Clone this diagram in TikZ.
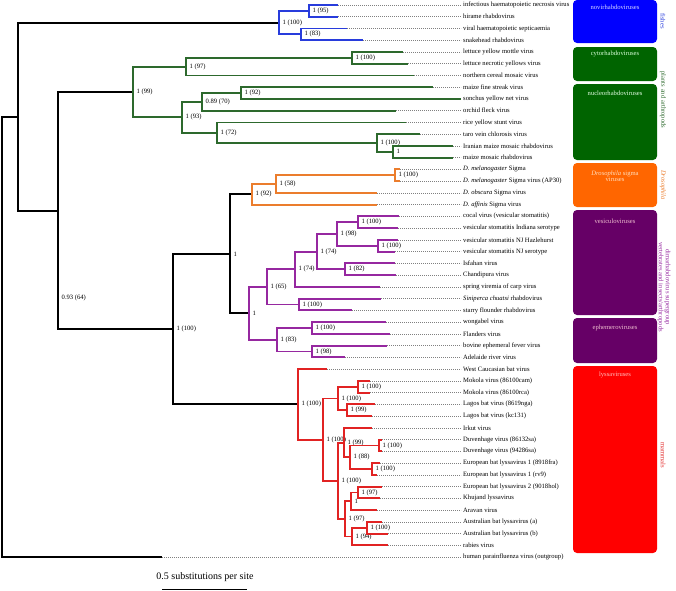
\documentclass[tikz,border=0pt]{standalone}
\usepackage{fontspec}
\setmainfont{Liberation Serif}
\definecolor{fishc}{RGB}{40,60,220}
\definecolor{plantc}{RGB}{45,105,45}
\definecolor{drosc}{RGB}{235,125,45}
\definecolor{purc}{RGB}{150,40,160}
\definecolor{lysc}{RGB}{225,35,35}
\definecolor{boxblue}{RGB}{0,0,255}
\definecolor{boxgreen}{RGB}{0,100,0}
\definecolor{boxorange}{RGB}{255,102,0}
\definecolor{boxpurple}{RGB}{102,0,102}
\definecolor{boxred}{RGB}{255,0,0}
\newcommand\smallf{\fontsize{6.6}{7.6}\selectfont}
\newcommand\lf[4]{%
  \coordinate (#1e) at (#3,#2);
  \node[leaflbl] (#1) at (461,#2) {#4};
  \draw[dotl] (#1e) -- (#1.west);}
\newcommand\inode[4]{%
  \coordinate (#1) at (#2,#3);
  \node[sup] (#1t) at (#1) {#4};}
\begin{document}
\begin{tikzpicture}[x=1pt,y=-1pt,
  br/.style={line width=1.9pt, line join=miter},
  blk/.style={br, black},
  fishb/.style={br, fishc},
  plantb/.style={br, plantc},
  drosb/.style={br, drosc},
  purb/.style={br, purc},
  lysb/.style={br, lysc},
  dotl/.style={gray, line width=0.5pt, dash pattern=on 0.7pt off 1.3pt},
  sup/.style={font=\smallf, anchor=west, inner sep=0pt, xshift=3.5pt},
  leaflbl/.style={font=\smallf, anchor=west, inner xsep=2pt, inner ysep=0pt},
  boxst/.style={rounded corners=4pt, minimum width=84pt, inner sep=0pt},
  boxtxt/.style={font=\smallf, inner sep=0pt},
  sidetxt/.style={font=\smallf, rotate=-90, inner sep=0pt, align=center}]
\useasboundingbox (0,0) rectangle (676,590);

% ---------- boxes ----------
\node[boxst, fill=boxblue, minimum height=43pt] (bx1) at (615,21.5) {};
\node[boxst, fill=boxgreen, minimum height=34pt] (bx2) at (615,64) {};
\node[boxst, fill=boxgreen, minimum height=76pt] (bx3) at (615,122) {};
\node[boxst, fill=boxorange, minimum height=44pt] (bx4) at (615,185) {};
\node[boxst, fill=boxpurple, minimum height=105pt] (bx5) at (615,262.5) {};
\node[boxst, fill=boxpurple, minimum height=45pt] (bx6) at (615,340.5) {};
\node[boxst, fill=boxred, minimum height=187pt] (bx7) at (615,459.5) {};
\node[boxtxt, text=white!85!blue] (bt1) at (615,7.5) {novirhabdoviruses};
\node[boxtxt, text=white!85!green] (bt2) at (615,54) {cytorhabdoviruses};
\node[boxtxt, text=white!90!green] (bt3) at (615,93) {nucleorhabdoviruses};
\node[boxtxt, text=white!75!orange, align=center] (bt4) at (615,176.5) {\textit{Drosophila} sigma\\[-1.5pt]viruses};
\node[boxtxt, text=white!75!purple] (bt5) at (615,221) {vesiculoviruses};
\node[boxtxt, text=white!75!purple] (bt6) at (615,328) {ephemeroviruses};
\node[boxtxt, text=white!75!red] (bt7) at (615,375) {lyssaviruses};
\node[sidetxt, text=fishc] (s1) at (663,21) {fishes};
\node[sidetxt, text=plantc] (s2) at (663,100) {plants and arthropods};
\node[sidetxt, text=drosc] (s3) at (663,185) {\textit{Drosophila}};
\node[sidetxt, text=purc, font=\fontsize{6.6}{7}\selectfont] (s4) at (664,287) {dimarhabdovirus supergroup\\vertebrates and insects/arthropods};
\node[sidetxt, text=lysc] (s5) at (663,455) {mammals};

% ---------- leaves ----------
\lf{L1}{5.0}{338}{infectious haematopoietic necrosis virus}
\lf{L2}{16.7}{338}{hirame rhabdovirus}
\lf{L3}{28.5}{347}{viral haematopoietic septicaemia}
\lf{L4}{40.2}{363}{snakehead rhabdovirus}
\lf{L5}{52.0}{403}{lettuce yellow mottle virus}
\lf{L6}{63.7}{408}{lettuce necrotic yellows virus}
\lf{L7}{75.5}{414}{northern cereal mosaic virus}
\lf{L8}{87.2}{433}{maize fine streak virus}
\lf{L9}{99.0}{461}{sonchus yellow net virus}
\lf{L10}{110.7}{396}{orchid fleck virus}
\lf{L11}{122.5}{406}{rice yellow stunt virus}
\lf{L12}{134.2}{420}{taro vein chlorosis virus}
\lf{L13}{145.9}{453}{Iranian maize mosaic rhabdovirus}
\lf{L14}{157.7}{453}{maize mosaic rhabdovirus}
\lf{L15}{169.4}{400}{\textit{D. melanogaster} Sigma}
\lf{L16}{181.2}{400}{\textit{D. melanogaster} Sigma virus (AP30)}
\lf{L17}{192.9}{377}{\textit{D. obscura} Sigma virus}
\lf{L18}{204.7}{377}{\textit{D. affinis} Sigma virus}
\lf{L19}{216.4}{399}{cocal virus (vesicular stomatitis)}
\lf{L20}{228.2}{398}{vesicular stomatitis Indiana serotype}
\lf{L21}{239.9}{398}{vesicular stomatitis NJ Hazlehurst}
\lf{L22}{251.7}{395}{vesicular stomatitis NJ serotype}
\lf{L23}{263.4}{395}{Isfahan virus}
\lf{L24}{275.2}{396}{Chandipura virus}
\lf{L25}{286.9}{380}{spring viremia of carp virus}
\lf{L26}{298.6}{381}{\textit{Siniperca chuatsi} rhabdovirus}
\lf{L27}{310.4}{352}{starry flounder rhabdovirus}
\lf{L28}{322.1}{386}{wongabel virus}
\lf{L29}{333.9}{390}{Flanders virus}
\lf{L30}{345.6}{387}{bovine ephemeral fever virus}
\lf{L31}{357.4}{345}{Adelaide river virus}
\lf{L32}{369.1}{327}{West Caucasian bat virus}
\lf{L33}{380.9}{370}{Mokola virus (86100cam)}
\lf{L34}{392.6}{370}{Mokola virus (86100rca)}
\lf{L35}{404.4}{375}{Lagos bat virus (8619nga)}
\lf{L36}{416.1}{372}{Lagos bat virus (kc131)}
\lf{L37}{427.9}{372}{Irkut virus}
\lf{L38}{439.6}{382}{Duvenhage virus (86132sa)}
\lf{L39}{451.3}{382}{Duvenhage virus (94286sa)}
\lf{L40}{463.1}{380}{European bat lyssavirus 1 (8918fra)}
\lf{L41}{474.8}{377}{European bat lyssavirus 1 (rv9)}
\lf{L42}{486.6}{382}{European bat lyssavirus 2 (9018hol)}
\lf{L43}{498.3}{380}{Khujand lyssavirus}
\lf{L44}{510.1}{377}{Aravan virus}
\lf{L45}{521.8}{382}{Australian bat lyssavirus (a)}
\lf{L46}{533.6}{388}{Australian bat lyssavirus (b)}
\lf{L47}{545.3}{388}{rabies virus}
\lf{L48}{557.1}{162}{human parainfluenza virus (outgroup)}

% ---------- internal nodes ----------
\inode{f12}{309}{10.9}{1 (95)}
\inode{f34}{301}{34.35}{1 (83)}
\inode{fish}{279}{22.6}{1 (100)}
\inode{c56}{352}{57.85}{1 (100)}
\inode{cyto}{186}{66.7}{1 (97)}
\inode{n89}{241}{93.1}{1 (92)}
\inode{n810}{202}{101.9}{0.89 (70)}
\inode{n1314}{393}{151.8}{1}
\inode{n12}{377}{143.0}{1 (100)}
\inode{n11}{217}{132.7}{1 (72)}
\inode{nucleo}{182}{117.3}{1 (93)}
\inode{plants}{133}{92.0}{1 (99)}
\inode{d1516}{395}{175.3}{1 (100)}
\inode{d17}{276}{184.1}{1 (58)}
\inode{dros}{252}{194.4}{1 (92)}
\inode{v1920}{358}{222.3}{1 (100)}
\inode{v2122}{378}{245.8}{1 (100)}
\inode{v98}{337}{234.05}{1 (98)}
\inode{v2324}{345}{269.3}{1 (82)}
\inode{v74u}{317}{251.7}{1 (74)}
\inode{v74l}{295}{269.3}{1 (74)}
\inode{v2627}{299}{304.5}{1 (100)}
\inode{vesic}{267}{286.9}{1 (65)}
\inode{e2829}{312}{328.0}{1 (100)}
\inode{e3031}{312}{351.5}{1 (98)}
\inode{ephem}{277}{339.75}{1 (83)}
\inode{purple}{249}{313.3}{1}
\inode{dimar}{230}{253.9}{1}
\inode{l3334}{358}{386.75}{1 (100)}
\inode{l3536}{347}{410.25}{1 (99)}
\inode{lB}{338}{398.5}{1 (100)}
\inode{l3839}{379}{445.45}{1 (100)}
\inode{l4041}{372}{468.95}{1 (100)}
\inode{lF}{350}{457.2}{1 (88)}
\inode{lD}{344}{442.55}{1 (99)}
\inode{l4243}{358}{492.45}{1 (97)}
\inode{l44}{351}{501.3}{1}
\inode{l4546}{367}{527.7}{1 (100)}
\inode{l47}{352}{536.5}{1 (94)}
\inode{lE}{345}{518.9}{1 (97)}
\inode{lC}{338}{480.7}{1 (100)}
\inode{lA}{323}{439.6}{1 (100)}
\inode{lyssa}{298}{404.35}{1 (100)}
\inode{ingr}{173}{329.1}{1 (100)}
\coordinate (g1) at (58,210.6);
\node[sup] (g1t) at (58,298) {0.93 (64)};
\coordinate (g0) at (18,116.6);
\coordinate (root) at (2,336.8);

% ---------- branches ----------
\draw[blk] (root) |- (g0) (root) |- (L48e)
  (g0) |- (fish) (g0) |- (g1)
  (g1) |- (plants) (g1) |- (ingr)
  (ingr) |- (dimar) (ingr) |- (lyssa)
  (dimar) |- (dros) (dimar) |- (purple);
\draw[fishb] (fish) |- (f12) (fish) |- (f34)
  (f12) |- (L1e) (f12) |- (L2e) (f34) |- (L3e) (f34) |- (L4e);
\draw[plantb] (plants) |- (cyto) (plants) |- (nucleo)
  (cyto) |- (c56) (cyto) |- (L7e) (c56) |- (L5e) (c56) |- (L6e)
  (nucleo) |- (n810) (nucleo) |- (n11)
  (n810) |- (n89) (n810) |- (L10e) (n89) |- (L8e) (n89) |- (L9e)
  (n11) |- (L11e) (n11) |- (n12) (n12) |- (L12e) (n12) |- (n1314)
  (n1314) |- (L13e) (n1314) |- (L14e);
\draw[drosb] (dros) |- (d17) (dros) |- (L18e) (d17) |- (d1516) (d17) |- (L17e)
  (d1516) |- (L15e) (d1516) |- (L16e);
\draw[purb] (purple) |- (vesic) (purple) |- (ephem)
  (vesic) |- (v74l) (vesic) |- (v2627)
  (v74l) |- (v74u) (v74l) |- (L25e)
  (v74u) |- (v98) (v74u) |- (v2324)
  (v98) |- (v1920) (v98) |- (v2122)
  (v1920) |- (L19e) (v1920) |- (L20e) (v2122) |- (L21e) (v2122) |- (L22e)
  (v2324) |- (L23e) (v2324) |- (L24e)
  (v2627) |- (L26e) (v2627) |- (L27e)
  (ephem) |- (e2829) (ephem) |- (e3031)
  (e2829) |- (L28e) (e2829) |- (L29e) (e3031) |- (L30e) (e3031) |- (L31e);
\draw[lysb] (lyssa) |- (L32e) (lyssa) |- (lA)
  (lA) |- (lB) (lA) |- (lC)
  (lB) |- (l3334) (lB) |- (l3536)
  (l3334) |- (L33e) (l3334) |- (L34e) (l3536) |- (L35e) (l3536) |- (L36e)
  (lC) |- (lD) (lC) |- (lE)
  (lD) |- (L37e) (lD) |- (lF)
  (lF) |- (l3839) (lF) |- (l4041)
  (l3839) |- (L38e) (l3839) |- (L39e) (l4041) |- (L40e) (l4041) |- (L41e)
  (lE) |- (l44) (lE) |- (l47)
  (l44) |- (l4243) (l44) |- (L44e) (l4243) |- (L42e) (l4243) |- (L43e)
  (l47) |- (l4546) (l47) |- (L47e) (l4546) |- (L45e) (l4546) |- (L46e);

% ---------- scale bar ----------
\node[font=\fontsize{10}{12}\selectfont, inner sep=0pt] (sbt) at (205,577) {0.5 substitutions per site};
\coordinate (sb1) at (162,589.3);
\coordinate (sb2) at (247,589.3);
\draw[line width=1.2pt] (sb1) -- (sb2);
\end{tikzpicture}
\end{document}
